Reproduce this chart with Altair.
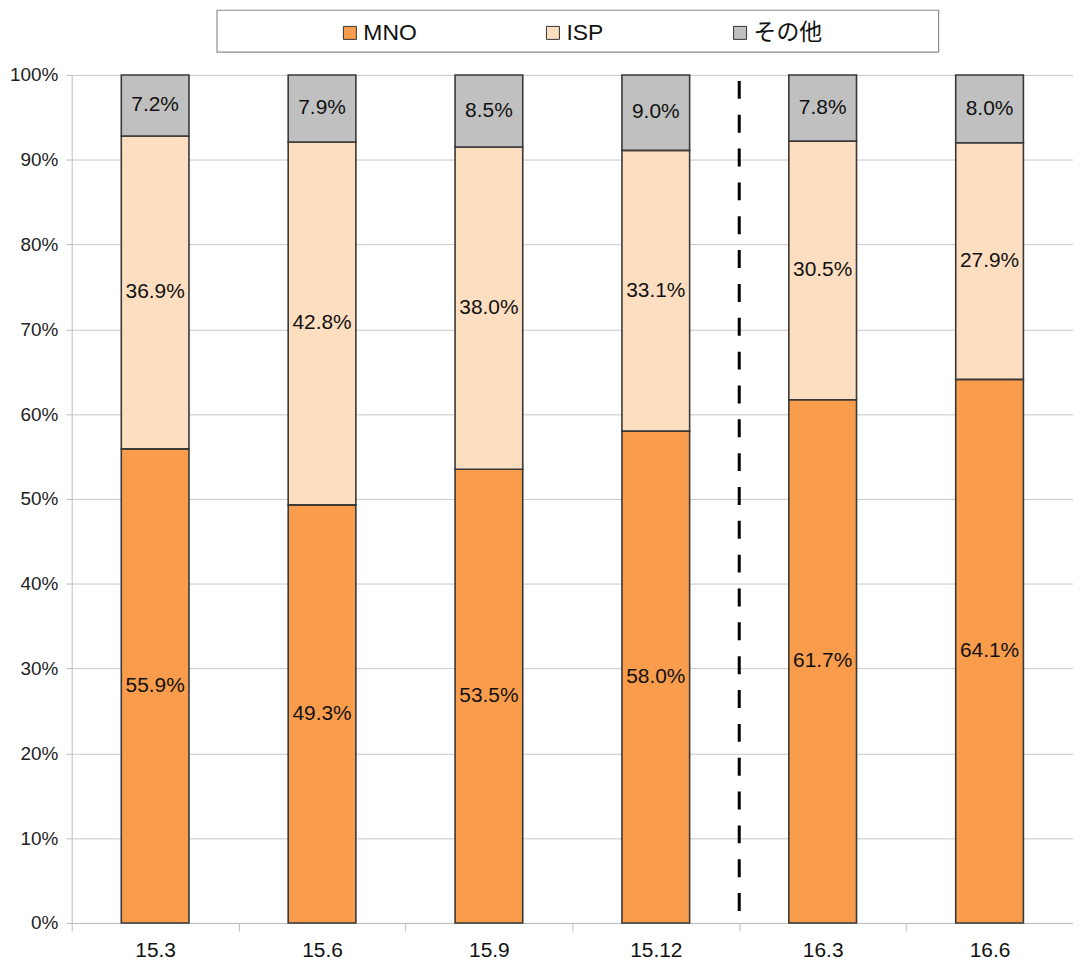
import altair as alt
import pandas as pd

periods = ["15.3", "15.6", "15.9", "15.12", "16.3", "16.6"]
series = ["MNO", "ISP", "その他"]
mno = [55.9, 49.3, 53.5, 58.0, 61.7, 64.1]
isp = [36.9, 42.8, 38.0, 33.1, 30.5, 27.9]
other = [7.2, 7.9, 8.5, 9.0, 7.8, 8.0]
colors = ["#F99D4D", "#FDDEC0", "#C0C0C0"]
divider_period = ["16.3"]

rows = []
for i, p in enumerate(periods):
    for k, (s, vals) in enumerate(zip(series, [mno, isp, other])):
        rows.append({"period": p, "series": s, "value": vals[i], "order": k})
df = pd.DataFrame(rows)

FONT = "Liberation Sans Narrow, Liberation Sans, Noto Sans CJK JP"

x_axis = alt.Axis(title=None, labelAngle=0, labelFontSize=21,
                  labelColor="#111", labelPadding=9, labelAlign="center",
                  bandPosition=0.5,
                  tickBand="extent", tickSize=8, tickColor="#BBBBBB",
                  domainColor="#BBBBBB", grid=False)
x_enc = alt.X("period:N", sort=periods,
              scale=alt.Scale(paddingInner=0, paddingOuter=0), axis=x_axis)
y_scale = alt.Scale(domain=[0, 100], nice=False, clamp=True)

base = alt.Chart(df).transform_stack(
    stack="value", groupby=["period"], as_=["y0", "y1"],
    sort=[alt.SortField("order", order="ascending")]
).transform_calculate(
    mid="(datum.y0 + datum.y1) / 2",
    label="format(datum.value, '.1f') + '%'"
)

bars = base.mark_bar(size=68, stroke="#383838", strokeWidth=1.6).encode(
    x=x_enc,
    y=alt.Y("y0:Q", scale=y_scale,
            axis=alt.Axis(title=None, values=list(range(0, 101, 10)),
                          labelExpr="datum.value + '%'", labelFontSize=19,
                          labelColor="#222", labelPadding=8, tickSize=6,
                          tickColor="#BBBBBB", domainColor="#BBBBBB",
                          gridColor="#C8C8C8")),
    y2="y1:Q",
    color=alt.Color("series:N", sort=series,
                    scale=alt.Scale(domain=series, range=colors),
                    legend=alt.Legend(title=None, orient="none", direction="horizontal",
                                      legendX=268, legendY=-54, labelFontSize=23,
                                      labelFont=FONT, labelColor="#111",
                                      symbolType="square", symbolSize=170,
                                      symbolStrokeColor="#333", symbolStrokeWidth=1,
                                      labelOffset=2, columnPadding=125, padding=0)),
)

labels = base.mark_text(fontSize=21, font=FONT, color="#111").encode(
    x=alt.X("period:N", sort=periods, axis=x_axis),
    y=alt.Y("mid:Q", scale=y_scale),
    text="label:N",
)

frame = alt.Chart(pd.DataFrame({"a": [0]})).mark_rect(
    fill="white", stroke="#8C8C8C", strokeWidth=1.2, clip=False
).encode(x=alt.value(146), x2=alt.value(871), y=alt.value(-65), y2=alt.value(-23))

divider = alt.Chart(pd.DataFrame({"period": divider_period})).mark_rule(
    color="#000", strokeWidth=3, strokeDash=[18, 16]
).encode(
    x=alt.X("period:N", sort=periods, bandPosition=0, axis=x_axis),
    y=alt.value(6), y2=alt.value(852),
)

chart = alt.layer(bars, labels, frame, divider).properties(
    width=1006, height=852,
    autosize=alt.AutoSizeParams(type="none"),
    padding={"left": 64, "top": 65, "right": 0, "bottom": 44},
).configure_view(stroke=None).configure_axis(labelFont=FONT)

chart.save("out.html", embed_options={"renderer": "svg", "actions": False})
